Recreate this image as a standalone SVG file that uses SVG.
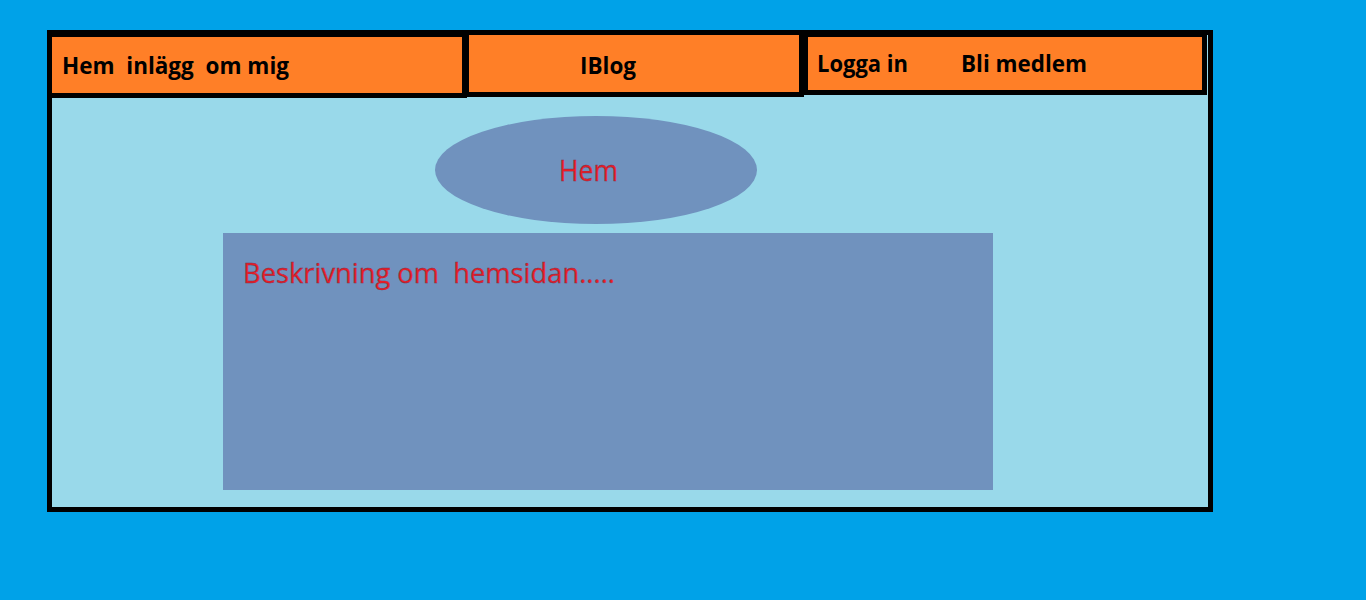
<svg xmlns="http://www.w3.org/2000/svg" width="1366" height="600" viewBox="0 0 1366 600">
<style>
.cell{fill:#ff7f27;stroke:#000;stroke-width:5}
.nav{font-family:"Open Sans","Liberation Sans",sans-serif;font-weight:bold;font-size:23px;fill:#000}
.red{font-family:"Open Sans","Liberation Sans",sans-serif;font-weight:normal;fill:#ed1c24;stroke:#7a3050;stroke-width:0.4}
.box{fill:#7092be}
</style>
<rect x="0" y="0" width="1366" height="600" fill="#00a2e8"/>
<g id="frame">
<rect x="49.5" y="32.5" width="1161" height="477" fill="#99d9ea" stroke="#000" stroke-width="5"/>
</g>
<g id="nav-left">
<rect class="cell" x="49.5" y="34.5" width="415" height="61"/>
<text class="nav" x="62" y="74" textLength="227" lengthAdjust="spacingAndGlyphs" xml:space="preserve">Hem  inlägg  om mig</text>
</g>
<g id="nav-center">
<rect class="cell" x="466.5" y="32.5" width="335" height="62"/>
<text class="nav" x="580" y="74" textLength="56" lengthAdjust="spacingAndGlyphs">IBlog</text>
</g>
<g id="nav-right">
<rect class="cell" x="805.5" y="34.5" width="399" height="58"/>
<text class="nav" x="817" y="72" textLength="91" lengthAdjust="spacingAndGlyphs">Logga in</text>
<text class="nav" x="961" y="72" textLength="126" lengthAdjust="spacingAndGlyphs">Bli medlem</text>
</g>
<g id="title">
<ellipse class="box" cx="596" cy="170" rx="161" ry="54"/>
<text class="red" x="559" y="181" font-size="29" textLength="59" lengthAdjust="spacingAndGlyphs">Hem</text>
</g>
<g id="content">
<rect class="box" x="223" y="233" width="770" height="257"/>
<text class="red" x="243" y="283" font-size="27" textLength="372" lengthAdjust="spacingAndGlyphs" xml:space="preserve">Beskrivning om  hemsidan.....</text>
</g>
<g id="connectors"/>
</svg>
